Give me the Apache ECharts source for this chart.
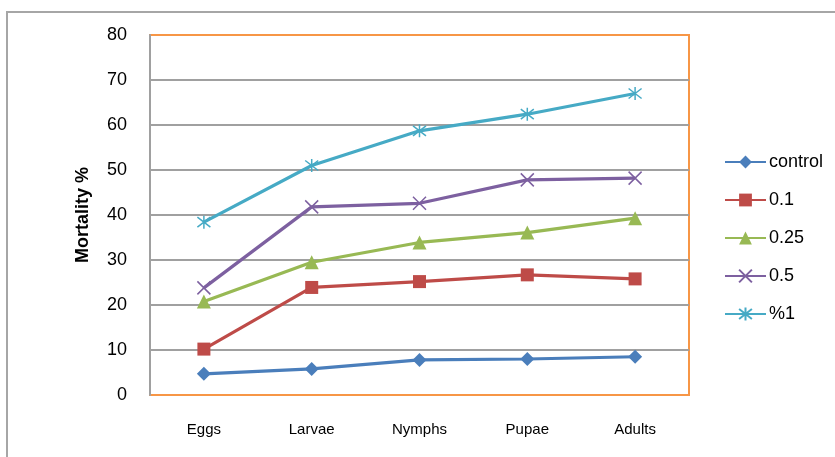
<!DOCTYPE html>
<html>
<head>
<meta charset="utf-8">
<script src="https://cdn.jsdelivr.net/npm/echarts@6/dist/echarts.min.js"></script>
<style>
html,body{margin:0;padding:0;background:#fff;}
#main{width:835px;height:457px;}
</style>
</head>
<body>
<div id="main"></div>
<script>
const categories = ['Eggs', 'Larvae', 'Nymphs', 'Pupae', 'Adults'];
const seriesNames = ['control', '0.1', '0.25', '0.5', '%1'];
const controlValues = [4.7, 5.8, 7.8, 8.0, 8.5];
const v01Values = [10.2, 23.9, 25.2, 26.7, 25.8];
const v025Values = [20.8, 29.5, 33.9, 36.1, 39.3];
const v05Values = [23.8, 41.8, 42.6, 47.8, 48.2];
const v1Values = [38.4, 51.0, 58.7, 62.4, 67.0];
const yTicks = [0, 10, 20, 30, 40, 50, 60, 70, 80];

const colors = ['#4A7EBB', '#BE4B48', '#98B954', '#7D60A0', '#46AAC5'];
const xPath = 'path://M0,0L10,10M10,0L0,10';
const starPath = 'path://M0,0L10,10M10,0L0,10M5,-1.5L5,11.5';

const chart = echarts.init(document.getElementById('main'));

function lineSeries(name, data, color, symbol, size, stroked) {
  return {
    name: name,
    type: 'line',
    data: data,
    symbol: symbol,
    symbolSize: size,
    showAllSymbol: true,
    lineStyle: { color: color, width: 3.2 },
    itemStyle: stroked
      ? { color: 'rgba(0,0,0,0)', borderColor: color, borderWidth: 1.5 }
      : { color: color, borderColor: color, borderWidth: 0 },
    emphasis: { disabled: true },
    animation: false,
    z: 3
  };
}

chart.setOption({
  animation: false,
  textStyle: { fontFamily: 'Liberation Sans, Arial, sans-serif' },
  graphic: [{
    type: 'rect',
    shape: { x: 7, y: 12, width: 900, height: 500 },
    style: { fill: 'none', stroke: '#A6A6A6', lineWidth: 2 },
    silent: true
  }],
  grid: {
    left: 150, top: 35, width: 539, height: 360,
    show: true, borderColor: '#F79646', borderWidth: 2, backgroundColor: 'transparent'
  },
  legend: {
    orient: 'vertical',
    left: 719, top: 148,
    itemGap: 20,
    itemWidth: 41, itemHeight: 16,
    textStyle: { fontSize: 18, color: '#000', fontFamily: 'Liberation Sans, Arial, sans-serif', padding: [0, 0, 0, -2] },
    data: seriesNames
  },
  xAxis: {
    type: 'category',
    data: categories,
    boundaryGap: true,
    axisLine: { show: false },
    axisTick: { show: false },
    axisLabel: { fontSize: 15, color: '#000', margin: 27 },
    splitLine: { show: false }
  },
  yAxis: {
    type: 'value',
    min: yTicks[0], max: yTicks[yTicks.length - 1], interval: 10,
    name: 'Mortality %',
    nameLocation: 'middle',
    nameGap: 58,
    nameTextStyle: { fontSize: 18, fontWeight: 'bold', color: '#000' },
    axisLine: { show: true, lineStyle: { color: '#A0A0A0', width: 2 } },
    axisTick: { show: false },
    axisLabel: { fontSize: 18, color: '#000', margin: 23 },
    splitLine: { show: true, showMinLine: false, showMaxLine: false, lineStyle: { color: '#A0A0A0', width: 2 } }
  },
  series: [
    lineSeries(seriesNames[0], controlValues, colors[0], 'diamond', 14, false),
    lineSeries(seriesNames[1], v01Values, colors[1], 'rect', 13, false),
    lineSeries(seriesNames[2], v025Values, colors[2], 'triangle', 14, false),
    lineSeries(seriesNames[3], v05Values, colors[3], xPath, 13, true),
    lineSeries(seriesNames[4], v1Values, colors[4], starPath, 13, true)
  ]
});
</script>
</body>
</html>
